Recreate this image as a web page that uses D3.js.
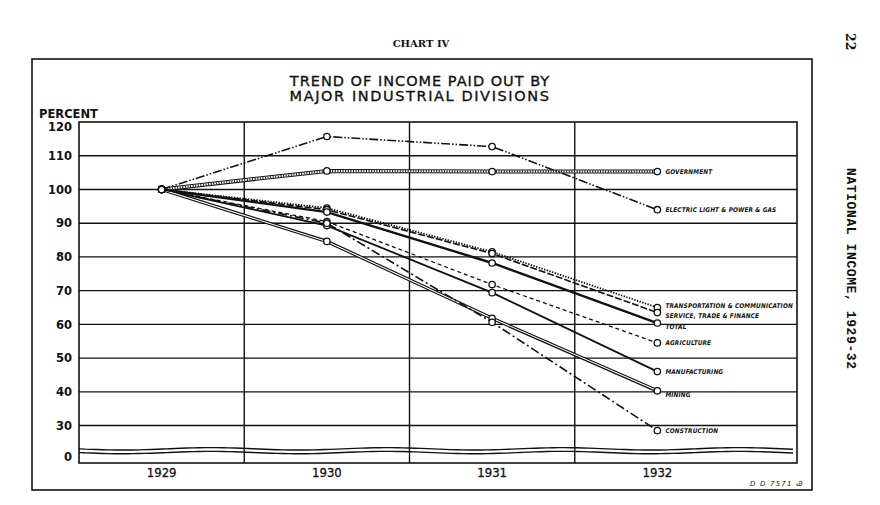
<!DOCTYPE html>
<html>
<head>
<meta charset="utf-8">
<script src="https://cdn.jsdelivr.net/npm/d3@7"></script>
<style>
  body { margin: 0; background: #fff; }
  svg { display: block; }
</style>
</head>
<body>
<svg width="880" height="505"></svg>
<script>
"use strict";

// years on the x axis
const years = ["1929", "1930", "1931", "1932"];

// y axis ticks (0 sits below the axis break)
const yTicks = [0, 30, 40, 50, 60, 70, 80, 90, 100, 110, 120];

// series, percent of 1929
const government     = [100, 105.5, 105.3, 105.3];
const electric       = [100, 115.7, 112.7, 94];
const transportation = [100, 94.5, 81.5, 65];
const service        = [100, 94, 81, 63.5];
const total          = [100, 93.3, 78.2, 60.4];
const agriculture    = [100, 90.5, 71.8, 54.5];
const manufacturing  = [100, 89.3, 69.4, 46];
const mining         = [100, 84.6, 61.8, 40.3];
const construction   = [100, 90, 60.6, 28.5];

const seriesNames = [
  "GOVERNMENT", "ELECTRIC LIGHT & POWER & GAS", "TRANSPORTATION & COMMUNICATION",
  "SERVICE, TRADE & FINANCE", "TOTAL", "AGRICULTURE", "MANUFACTURING", "MINING", "CONSTRUCTION"
];
const seriesValues = [government, electric, transportation, service, total,
  agriculture, manufacturing, mining, construction];

// line look for each series
const styles = {
  "GOVERNMENT": "rail",
  "ELECTRIC LIGHT & POWER & GAS": {dash: "9,2,1.5,2,1.5,2", w: 1.6},
  "TRANSPORTATION & COMMUNICATION": {dash: "1.4,1.4", w: 1.8},
  "SERVICE, TRADE & FINANCE": {dash: "7,2", w: 1.6},
  "TOTAL": {dash: null, w: 2.4},
  "AGRICULTURE": {dash: "4,3", w: 1.3},
  "MANUFACTURING": {dash: null, w: 1.8},
  "MINING": "double",
  "CONSTRUCTION": {dash: "9,3,2,3", w: 1.6}
};
// small nudges so the labels don't sit on each other
const labelNudge = {
  "TRANSPORTATION & COMMUNICATION": -2,
  "SERVICE, TRADE & FINANCE": 3,
  "TOTAL": 4,
  "MINING": 4
};

window.addEventListener("load", draw);

function draw() {
  const svg = d3.select("svg");
  const Plot = {LEFT: 79, RIGHT: 797, TOP: 122, BOTTOM: 463};

  const x = d3.scaleBand()
    .domain(years)
    .range([Plot.LEFT, 740]);
  const cx = d => x(d) + x.bandwidth() / 2;

  const y = d3.scaleLinear()
    .domain([18.9, 120])
    .range([Plot.BOTTOM, Plot.TOP]);
  const yPos = v => v === 0 ? y(20.6) : y(v);

  const ink = "#111";

  // outer frame
  svg.append("rect")
    .attr("x", 32).attr("y", 59).attr("width", 780).attr("height", 431)
    .attr("fill", "none").attr("stroke", ink).attr("stroke-width", 1.6);

  // headers
  svg.append("text")
    .attr("x", 421).attr("y", 47)
    .attr("text-anchor", "middle")
    .attr("font-family", "DejaVu Serif").attr("font-weight", "bold").attr("font-size", 10)
    .attr("fill", ink)
    .text("CHART IV");

  const title = svg.append("text")
    .attr("text-anchor", "middle")
    .attr("font-family", "DejaVu Sans").attr("font-size", 14.5)
    .attr("letter-spacing", 1)
    .attr("fill", ink).attr("stroke", ink).attr("stroke-width", 0.35);
  title.append("tspan").attr("x", 420).attr("y", 86).text("TREND OF INCOME PAID OUT BY");
  title.append("tspan").attr("x", 420).attr("y", 101).attr("letter-spacing", 1.6).text("MAJOR INDUSTRIAL DIVISIONS");

  svg.append("text")
    .attr("x", 39).attr("y", 118)
    .attr("font-family", "DejaVu Sans").attr("font-weight", "bold").attr("font-size", 11.5)
    .attr("fill", ink)
    .text("PERCENT");

  // page margin texts
  svg.append("text")
    .attr("transform", "translate(846 33) rotate(90)")
    .attr("font-family", "DejaVu Serif").attr("font-weight", "bold").attr("font-size", 12.5)
    .attr("fill", ink)
    .text("22");
  svg.append("text")
    .attr("transform", "translate(847 168) rotate(90)")
    .attr("font-family", "Liberation Mono").attr("font-weight", "bold").attr("font-size", 13)
    .attr("letter-spacing", 0.6)
    .attr("fill", ink)
    .text("NATIONAL INCOME, 1929-32");

  // axis break: two wavy lines
  const waveXs = d3.range(Plot.LEFT, Plot.RIGHT + 1, 6);
  const wave = (base, amp) => d3.line().curve(d3.curveBasis)
    .x(d => d)
    .y(d => y(base) + amp * Math.sin((d - Plot.LEFT) / 28))(waveXs);
  svg.append("path").attr("d", wave(23.1, 1.2))
    .attr("fill", "none").attr("stroke", ink).attr("stroke-width", 1.4);
  svg.append("path").attr("d", wave(22.0, 1.2))
    .attr("fill", "none").attr("stroke", ink).attr("stroke-width", 1.4);

  // horizontal grid
  svg.append("g")
    .selectAll("line")
    .data(yTicks.filter(t => t >= 30 && t < 120))
    .join("line")
    .attr("x1", Plot.LEFT).attr("x2", Plot.RIGHT)
    .attr("y1", d => y(d)).attr("y2", d => y(d))
    .attr("stroke", ink).attr("stroke-width", 1.4);

  // vertical dividers between years
  svg.append("g")
    .selectAll("line")
    .data(years.slice(1))
    .join("line")
    .attr("x1", d => x(d)).attr("x2", d => x(d))
    .attr("y1", Plot.TOP).attr("y2", Plot.BOTTOM)
    .attr("stroke", ink).attr("stroke-width", 1.4);

  // plot border
  svg.append("rect")
    .attr("x", Plot.LEFT).attr("y", Plot.TOP)
    .attr("width", Plot.RIGHT - Plot.LEFT).attr("height", Plot.BOTTOM - Plot.TOP)
    .attr("fill", "none").attr("stroke", ink).attr("stroke-width", 1.6);

  // y axis labels
  const yAxis = svg.append("g")
    .attr("transform", `translate(${Plot.LEFT - 4}, 0)`)
    .call(d3.axisLeft(y).tickValues(yTicks.filter(t => t > 0)).tickSize(0).tickFormat(d3.format("d")));
  yAxis.select(".domain").remove();
  yAxis.append("g").attr("class", "tick")
    .attr("transform", `translate(0, ${yPos(0)})`)
    .append("text").attr("dy", "0.32em").attr("text-anchor", "end").text("0");
  yAxis.selectAll("text")
    .attr("x", -3)
    .attr("font-family", "DejaVu Sans").attr("font-weight", "bold").attr("font-size", 11.5)
    .attr("fill", ink);
  // the top label hangs a little under the frame line
  yAxis.selectAll(".tick text").filter(d => d === 120).attr("dy", "0.75em");

  // x axis labels
  const xAxis = svg.append("g")
    .attr("transform", `translate(0, ${Plot.BOTTOM + 2})`)
    .call(d3.axisBottom(x).tickSize(0));
  xAxis.select(".domain").remove();
  xAxis.selectAll("text")
    .attr("font-family", "DejaVu Sans Condensed").attr("font-size", 13)
    .attr("fill", ink).attr("stroke", ink).attr("stroke-width", 0.3);

  // lines
  const line = d3.line()
    .x((d, i) => cx(years[i]))
    .y(d => y(d));

  const lines = svg.append("g");
  seriesNames.forEach((name, k) => {
    const data = seriesValues[k];
    const st = styles[name];
    if (st === "rail") {
      lines.append("path").datum(data).attr("d", line)
        .attr("fill", "none").attr("stroke", ink).attr("stroke-width", 4);
      lines.append("path").datum(data).attr("d", line)
        .attr("fill", "none").attr("stroke", "#fff").attr("stroke-width", 2);
      lines.append("path").datum(data).attr("d", line)
        .attr("fill", "none").attr("stroke", ink).attr("stroke-width", 2)
        .attr("stroke-dasharray", "1,1.6");
    } else if (st === "double") {
      lines.append("path").datum(data).attr("d", line)
        .attr("fill", "none").attr("stroke", ink).attr("stroke-width", 3.4);
      lines.append("path").datum(data).attr("d", line)
        .attr("fill", "none").attr("stroke", "#fff").attr("stroke-width", 1.1);
    } else {
      lines.append("path").datum(data).attr("d", line)
        .attr("fill", "none").attr("stroke", ink).attr("stroke-width", st.w)
        .attr("stroke-dasharray", st.dash);
    }
  });

  // markers
  seriesNames.forEach((name, k) => {
    const data = seriesValues[k];
    lines.append("g")
      .selectAll("circle")
      .data(data)
      .join("circle")
      .attr("cx", (d, i) => cx(years[i]))
      .attr("cy", d => y(d))
      .attr("r", 3.2)
      .attr("fill", "#fff").attr("stroke", ink).attr("stroke-width", 1.3);
  });

  // series labels at the right end
  svg.append("g")
    .selectAll("text")
    .data(seriesNames)
    .join("text")
    .attr("x", cx(years[years.length - 1]) + 8)
    .attr("y", (d, k) => y(seriesValues[k][years.length - 1]) + (labelNudge[d] || 0))
    .attr("dy", "0.35em")
    .attr("font-family", "DejaVu Sans Condensed").attr("font-style", "italic").attr("font-weight", "bold")
    .attr("font-size", 6.4)
    .attr("letter-spacing", 0.15)
    .attr("fill", ink)
    .text(d => d);

  // drawing number
  svg.append("text")
    .attr("x", 750).attr("y", 486)
    .attr("font-family", "DejaVu Sans").attr("font-style", "italic").attr("font-size", 7)
    .attr("letter-spacing", 1.2)
    .attr("fill", ink)
    .text("D D 7571  Ꮚ");
}
</script>
</body>
</html>
